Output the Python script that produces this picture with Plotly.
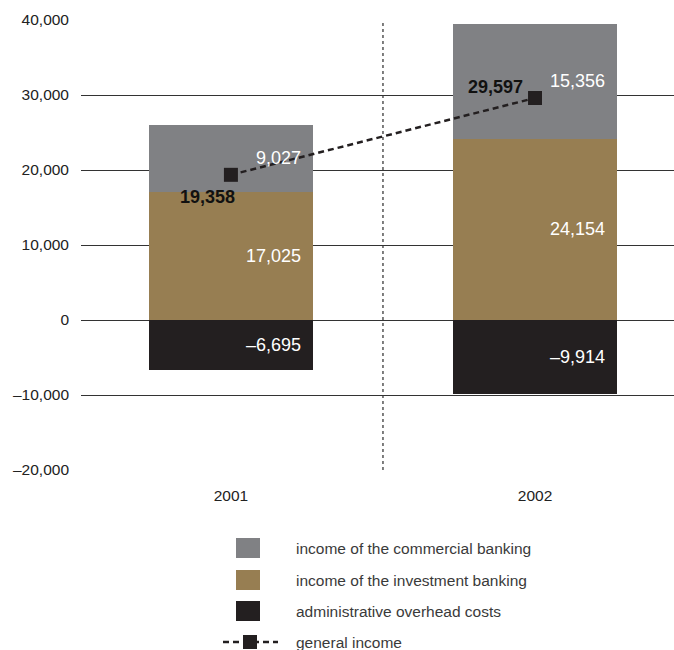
import plotly.graph_objects as go

# ---- data ----
years = ["2001", "2002"]
commercial = [9027, 15356]
investment = [17025, 24154]
overhead = [-6695, -9914]
general = [19358, 29597]
series_names = [
    "income of the commercial banking",
    "income of the investment banking",
    "administrative overhead costs",
    "general income",
]
y_ticks = [-20000, -10000, 0, 10000, 20000, 30000, 40000]
y_tick_text = ["–20,000", "–10,000", "0", "10,000", "20,000", "30,000", "40,000"]

GRAY = "#808184"
BROWN = "#977e52"
BLACK = "#231f20"
FONT = "Liberation Sans, Arial, Helvetica, sans-serif"

W, H = 674, 650
L, R, T, B = 81, 0, 20, 180
PW, PH = W - L - R, H - T - B
BAR_W = 0.54

xs = list(range(len(years)))

def fmt(v):
    s = f"{abs(v):,}"
    return ("–" + s) if v < 0 else s

fig = go.Figure()
fig.add_trace(go.Bar(x=xs, y=investment, name=series_names[1], marker_color=BROWN,
                     width=BAR_W, showlegend=False, marker_line_width=0))
fig.add_trace(go.Bar(x=xs, y=commercial, name=series_names[0], marker_color=GRAY,
                     width=BAR_W, showlegend=False, marker_line_width=0))
fig.add_trace(go.Bar(x=xs, y=overhead, name=series_names[2], marker_color=BLACK,
                     width=BAR_W, showlegend=False, marker_line_width=0))
fig.add_trace(go.Scatter(x=xs, y=general, name=series_names[3], mode="lines+markers",
                         line=dict(color=BLACK, width=2.5, dash="6px,4px"),
                         marker=dict(symbol="square", size=14, color=BLACK),
                         showlegend=False))

annotations = []
# segment value labels
for i in xs:
    segs = [
        (0, investment[i]),
        (investment[i], commercial[i]),
        (0, overhead[i]),
    ]
    for base, val in segs:
        annotations.append(dict(
            x=i + BAR_W / 2, y=base + val / 2, xref="x", yref="y",
            text=fmt(val), showarrow=False, xanchor="right", yanchor="middle",
            xshift=-10, font=dict(family=FONT, size=18, color="white")))

# general income labels
shifts = [(-23, -22), (-40, 11)]
for i in xs:
    annotations.append(dict(
        x=i, y=general[i], xref="x", yref="y", text=f"<b>{fmt(general[i])}</b>",
        showarrow=False, xanchor="center", yanchor="middle",
        xshift=shifts[i][0], yshift=shifts[i][1],
        font=dict(family=FONT, size=18, color="#111111")))

# manual legend (pixel coords -> paper coords)
def px_x(px):
    return (px - L) / PW

def px_y(py):
    return (H - B - py) / PH

shapes = []
rows_py = [548, 580, 611, 642]
colors = [GRAY, BROWN, BLACK]
for k in range(3):
    cy = rows_py[k]
    shapes.append(dict(type="rect", xref="paper", yref="paper",
                       x0=px_x(236), x1=px_x(260), y0=px_y(cy + 10), y1=px_y(cy - 10),
                       fillcolor=colors[k], line=dict(width=0), layer="above"))
cy = rows_py[3]
shapes.append(dict(type="line", xref="paper", yref="paper",
                   x0=px_x(223), x1=px_x(278), y0=px_y(cy), y1=px_y(cy),
                   line=dict(color=BLACK, width=2.5, dash="6px,4px")))
shapes.append(dict(type="rect", xref="paper", yref="paper",
                   x0=px_x(243), x1=px_x(257), y0=px_y(cy + 7), y1=px_y(cy - 7),
                   fillcolor=BLACK, line=dict(width=0)))
for k in range(4):
    annotations.append(dict(
        x=px_x(294), y=px_y(rows_py[k]), xref="paper", yref="paper",
        text=series_names[k], showarrow=False, xanchor="left", yanchor="middle",
        font=dict(family=FONT, size=15.5, color="#3a3a3a")))

# dotted separator between years
shapes.append(dict(type="line", xref="x", yref="y", x0=0.5, x1=0.5,
                   y0=y_ticks[0], y1=y_ticks[-1],
                   line=dict(color="#555555", width=1.5, dash="dot"), layer="below"))

fig.update_layout(
    width=W, height=H,
    margin=dict(l=L, r=R, t=T, b=B),
    paper_bgcolor="white", plot_bgcolor="white",
    barmode="relative", bargap=0,
    showlegend=False,
    annotations=annotations, shapes=shapes,
    font=dict(family=FONT, color="#222222"),
)
fig.update_xaxes(
    range=[-0.493, 1.457], tickvals=xs, ticktext=years,
    showgrid=False, zeroline=False, showline=False, ticks="",
    tickfont=dict(family=FONT, size=15.5, color="#222222"),
    ticklabelstandoff=14,
)
fig.update_yaxes(
    range=[y_ticks[0], y_ticks[-1]], tickvals=y_ticks, ticktext=y_tick_text,
    showgrid=True, gridcolor="#333333", gridwidth=1,
    zeroline=True, zerolinecolor="#333333", zerolinewidth=1,
    showline=False, ticks="",
    tickfont=dict(family=FONT, size=15.5, color="#222222"),
    ticklabelstandoff=11,
)

fig.write_html(
    "out.html",
    config={"displayModeBar": False},
    post_script="document.body.style.margin='0';document.body.style.overflow='hidden';",
)
